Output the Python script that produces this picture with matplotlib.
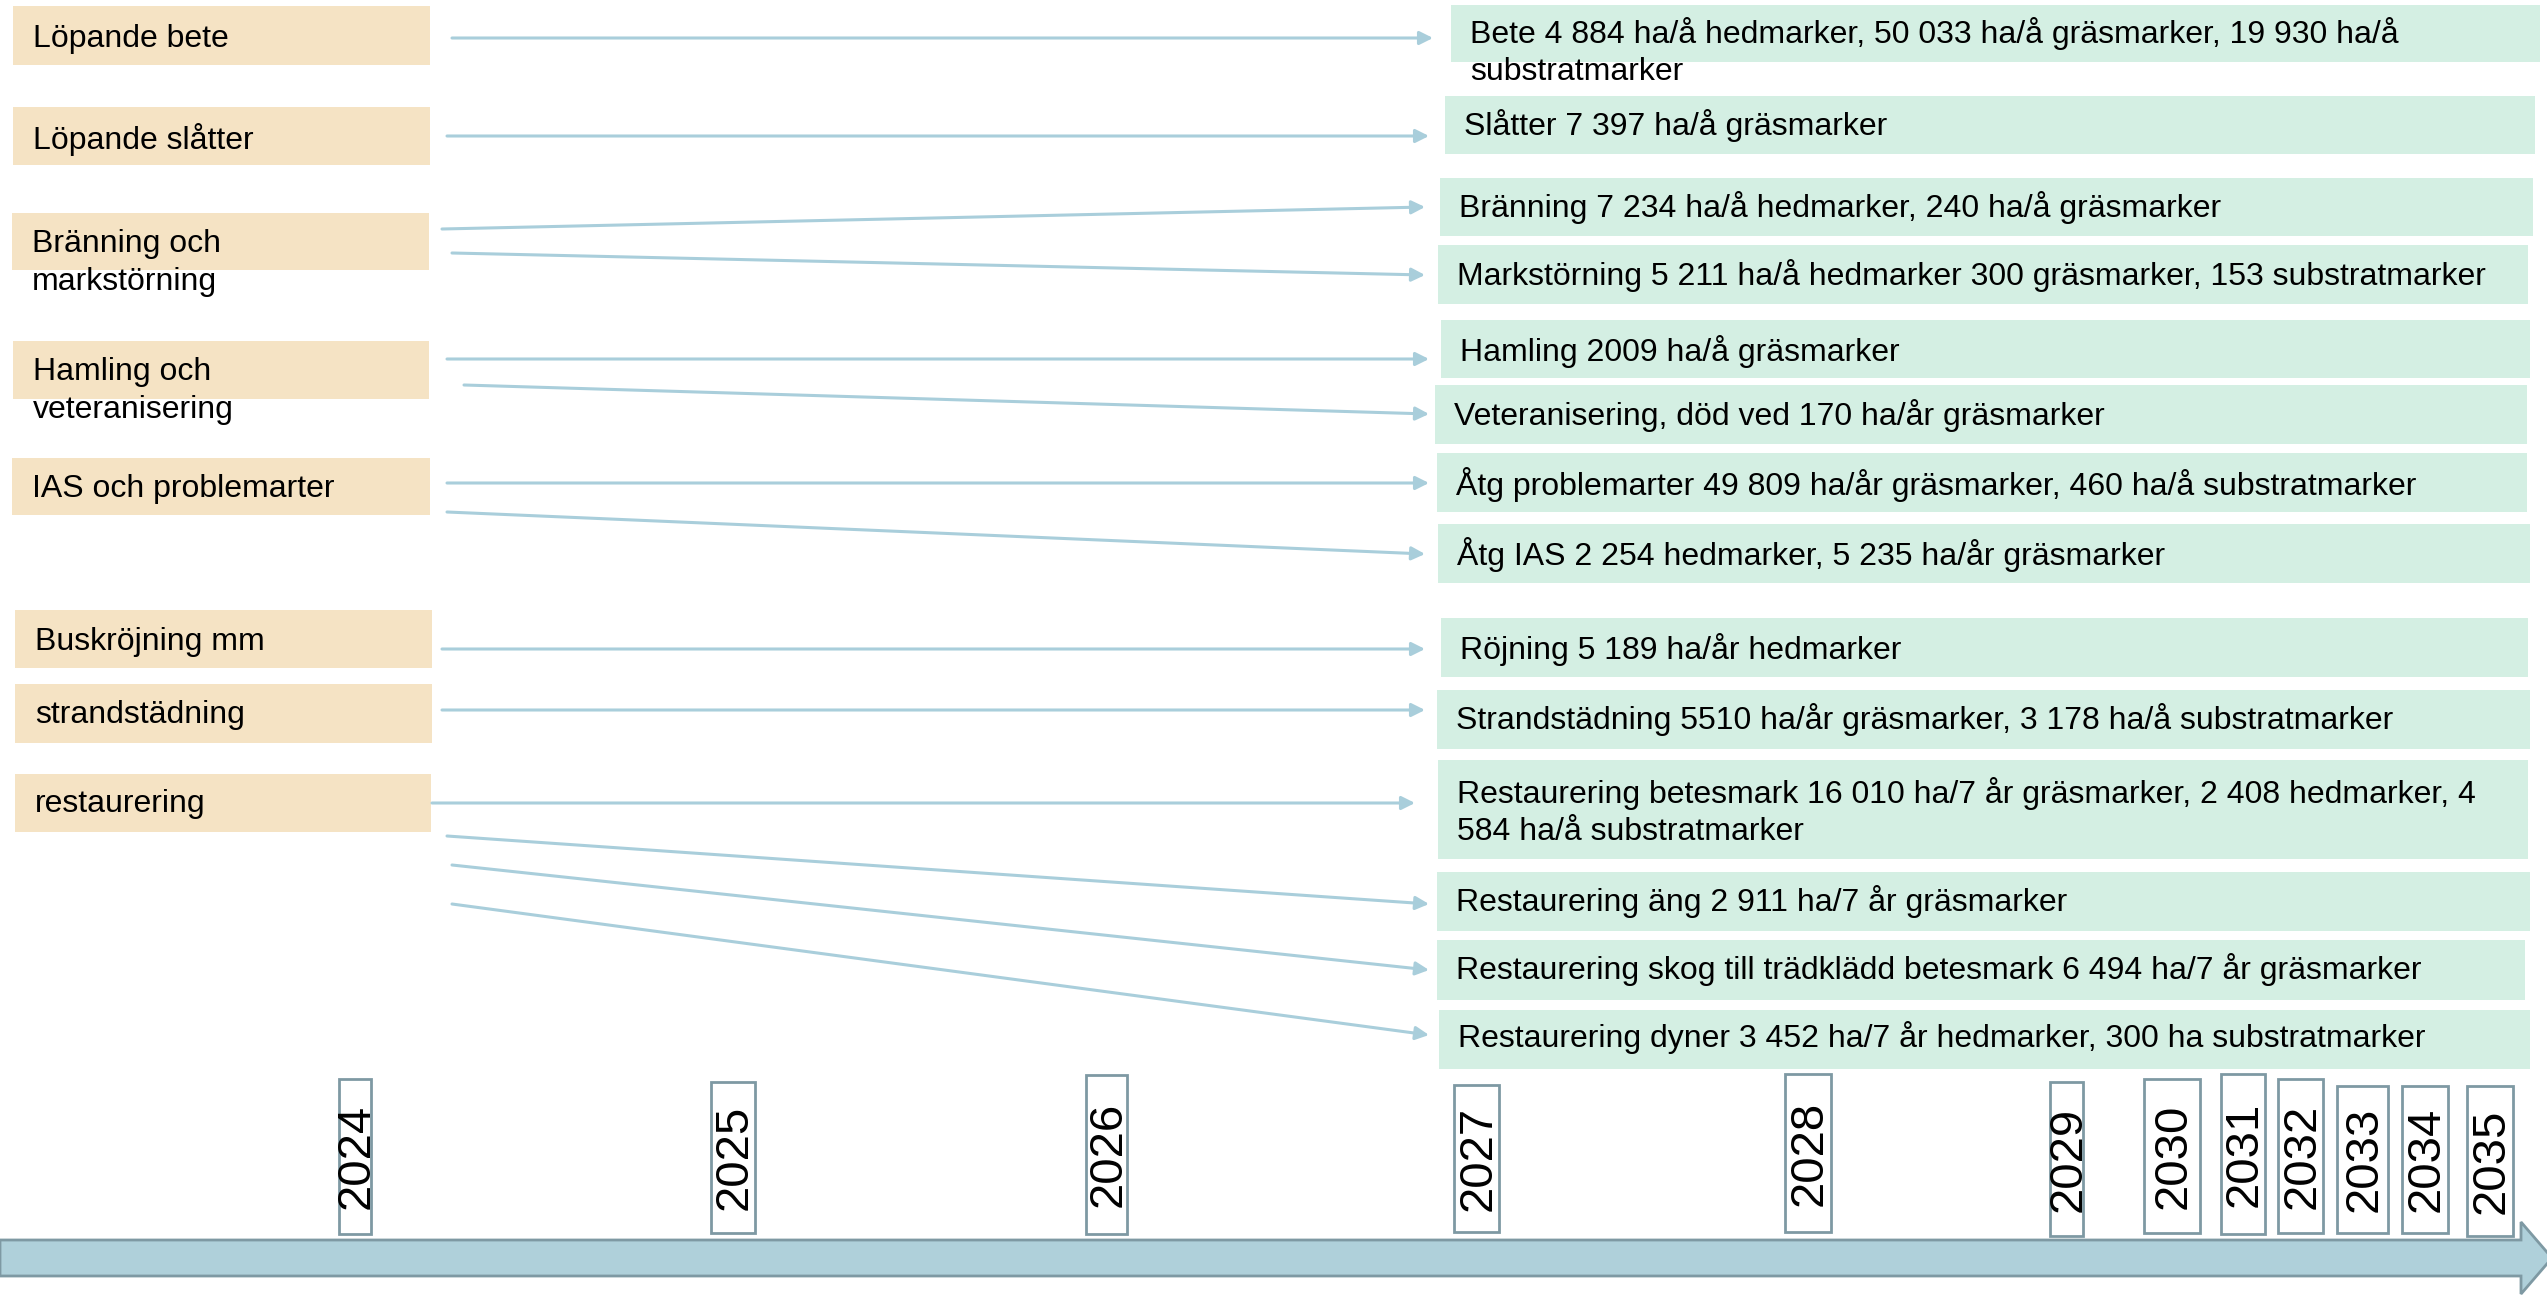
import matplotlib
matplotlib.use('Agg')
import matplotlib.pyplot as plt
from matplotlib.patches import Rectangle, Polygon

plt.rcParams['font.family'] = ['Liberation Sans', 'DejaVu Sans']

# --- content ---
activities = ["Löpande bete", "Löpande slåtter", "Bränning och\nmarkstörning",
              "Hamling och\nveteranisering", "IAS och problemarter",
              "Buskröjning mm", "strandstädning", "restaurering"]

measures = [
    "Bete 4 884 ha/å hedmarker, 50 033 ha/å gräsmarker, 19 930 ha/å\nsubstratmarker",
    "Slåtter 7 397 ha/å gräsmarker",
    "Bränning 7 234 ha/å hedmarker, 240 ha/å gräsmarker",
    "Markstörning 5 211 ha/å hedmarker 300 gräsmarker, 153 substratmarker",
    "Hamling 2009 ha/å gräsmarker",
    "Veteranisering, död ved 170 ha/år gräsmarker",
    "Åtg problemarter 49 809 ha/år gräsmarker, 460 ha/å substratmarker",
    "Åtg IAS 2 254 hedmarker, 5 235 ha/år gräsmarker",
    "Röjning 5 189 ha/år hedmarker",
    "Strandstädning 5510 ha/år gräsmarker, 3 178 ha/å substratmarker",
    "Restaurering betesmark 16 010 ha/7 år gräsmarker, 2 408 hedmarker, 4\n584 ha/å substratmarker",
    "Restaurering äng 2 911 ha/7 år gräsmarker",
    "Restaurering skog till trädklädd betesmark 6 494 ha/7 år gräsmarker",
    "Restaurering dyner 3 452 ha/7 år hedmarker, 300 ha substratmarker",
]

# which activity each measure comes from
links = [0, 1, 2, 2, 3, 3, 4, 4, 5, 6, 7, 7, 7, 7]

years = ["2024", "2025", "2026", "2027", "2028", "2029",
         "2030", "2031", "2032", "2033", "2034", "2035"]

# --- layout (pixel coords, y down) ---
left_boxes = [(13, 430, 6, 65), (13, 430, 107, 165), (12, 429, 213, 270),
              (13, 429, 341, 399), (12, 430, 458, 515), (15, 432, 610, 668),
              (15, 432, 684, 743), (15, 431, 774, 832)]
left_text_y = [39, 139, 263, 391, 489, 642, 715, 804]

right_boxes = [(1451, 2540, 5, 62), (1445, 2535, 96, 154), (1440, 2533, 178, 236),
               (1438, 2528, 245, 304), (1441, 2530, 320, 378), (1435, 2527, 385, 444),
               (1437, 2527, 453, 512), (1438, 2530, 524, 583), (1441, 2528, 618, 677),
               (1437, 2530, 690, 749), (1438, 2528, 760, 859), (1437, 2530, 872, 931),
               (1437, 2525, 940, 1000), (1439, 2530, 1010, 1069)]
right_text_y = [52, 126, 207, 275, 351, 415, 484, 554, 649, 719, 812, 902, 970, 1038]

arrow_start = [(452, 38), (447, 136), (442, 229), (452, 253), (447, 359), (464, 385),
               (447, 483), (447, 512), (442, 649), (442, 710), (432, 803),
               (447, 836), (452, 865), (452, 904)]
arrow_end = [(1433, 38), (1429, 136), (1425, 207), (1425, 275), (1429, 359), (1429, 414),
             (1429, 483), (1425, 554), (1425, 649), (1425, 710), (1415, 803),
             (1429, 904), (1429, 970), (1429, 1035)]

year_boxes = [(339, 371, 1079, 1234), (711, 755, 1082, 1233), (1086, 1127, 1075, 1234),
              (1454, 1499, 1085, 1232), (1785, 1831, 1074, 1232), (2050, 2083, 1082, 1236),
              (2144, 2200, 1079, 1233), (2221, 2265, 1074, 1234), (2278, 2323, 1079, 1233),
              (2337, 2388, 1086, 1233), (2402, 2448, 1086, 1233), (2467, 2513, 1086, 1236)]

BEIGE = '#f5e3c4'
MINT = '#d4efe3'
ARROW = '#a9cedb'
TL_FILL = '#afd0da'
TL_EDGE = '#7e99a3'

W, H = 2547, 1297
fig = plt.figure(figsize=(W / 100, H / 100), dpi=100)
ax = fig.add_axes([0, 0, 1, 1])
ax.set_xlim(0, W)
ax.set_ylim(H, 0)
ax.axis('off')

for (x0, x1, y0, y1), lab, ty in zip(left_boxes, activities, left_text_y):
    ax.add_patch(Rectangle((x0, y0), x1 - x0, y1 - y0, facecolor=BEIGE, edgecolor='none'))
    ax.text(x0 + 20, ty, lab, fontsize=23, va='center', ha='left', linespacing=1.32)

for (x0, x1, y0, y1), lab, ty in zip(right_boxes, measures, right_text_y):
    ax.add_patch(Rectangle((x0, y0), x1 - x0, y1 - y0, facecolor=MINT, edgecolor='none'))
    ax.text(x0 + 19, ty, lab, fontsize=23, va='center', ha='left', linespacing=1.32)

for s, e in zip(arrow_start, arrow_end):
    ax.annotate('', xy=e, xytext=s,
                arrowprops=dict(arrowstyle='-|>', color=ARROW, lw=2.2,
                                mutation_scale=20, shrinkA=0, shrinkB=0))

# timeline arrow
tl = Polygon([(0, 1240), (2521, 1240), (2521, 1222), (2552, 1258),
              (2521, 1294), (2521, 1276), (0, 1276)],
             closed=True, facecolor=TL_FILL, edgecolor=TL_EDGE, lw=2)
ax.add_patch(tl)

for (x0, x1, y0, y1), yr in zip(year_boxes, years):
    ax.add_patch(Rectangle((x0, y0), x1 - x0, y1 - y0, facecolor='white',
                           edgecolor=TL_EDGE, lw=2))
    ax.text((x0 + x1) / 2 + 2, (y0 + y1) / 2, yr, fontsize=34, rotation=90,
            ha='center', va='center')

fig.savefig('out.png', dpi=100)
